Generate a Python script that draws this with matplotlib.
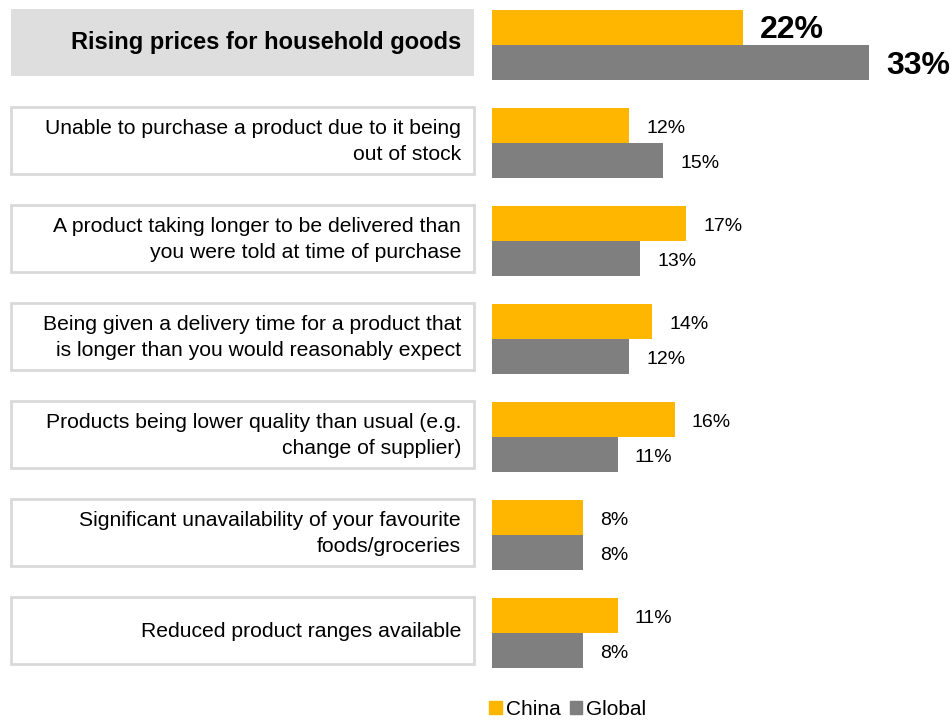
import matplotlib.pyplot as plt
from matplotlib.patches import Rectangle, Patch

plt.rcParams['font.family'] = ['Liberation Sans', 'DejaVu Sans']

categories = [
    "Rising prices for household goods",
    "Unable to purchase a product due to it being\nout of stock",
    "A product taking longer to be delivered than\nyou were told at time of purchase",
    "Being given a delivery time for a product that\nis longer than you would reasonably expect",
    "Products being lower quality than usual (e.g.\nchange of supplier)",
    "Significant unavailability of your favourite\nfoods/groceries",
    "Reduced product ranges available",
]
china = [22, 12, 17, 14, 16, 8, 11]
global_ = [33, 15, 13, 12, 11, 8, 8]

ORANGE = '#FFB600'
GREY = '#7F7F7F'

W, H = 951, 720
PX_PER_PCT = 11.42   # horizontal scale of the bars
ROW_PX = 98.0        # vertical distance between rows
X0_PX = 492          # where bars start
Y0_PX = 45           # centre of first row

fig = plt.figure(figsize=(W / 100, H / 100), dpi=100)
ax = fig.add_axes([0, 0, 1, 1])
ax.set_xlim(-X0_PX / PX_PER_PCT, (W - X0_PX) / PX_PER_PCT)
ax.set_ylim((H - Y0_PX) / ROW_PX, -Y0_PX / ROW_PX)
ax.axis('off')

h = 0.36
rows = list(range(len(categories)))
ax.barh([r - h / 2 for r in rows], china, height=h, color=ORANGE)
ax.barh([r + h / 2 for r in rows], global_, height=h, color=GREY)

box_l = (11 - X0_PX) / PX_PER_PCT
box_r = (474 - X0_PX) / PX_PER_PCT
text_r = (461 - X0_PX) / PX_PER_PCT
for r, label in enumerate(categories):
    top = r - 0.365
    bottom = r + 0.32
    if r == 0:
        ax.add_patch(Rectangle((box_l, top), box_r - box_l, bottom - top,
                               facecolor='#DEDEDE', edgecolor='#DEDEDE', lw=0))
        ax.text(text_r, (top + bottom) / 2, label, ha='right', va='center',
                fontsize=17, fontweight='bold', color='black')
    else:
        ax.add_patch(Rectangle((box_l, top), box_r - box_l, bottom - top,
                               facecolor='white', edgecolor='#D9D9D9', lw=2))
        ax.text(text_r, (top + bottom) / 2 + 0.01, label, ha='right', va='center',
                fontsize=15.2, color='black', multialignment='right',
                linespacing=1.45)

# value labels, nudged slightly down so digits sit on the bar centre
dy = 0.03
for r in rows:
    big = r == 0
    kw = dict(fontsize=23 if big else 14, fontweight='bold' if big else 'normal',
              va='center', ha='left')
    ax.text(china[r] + 1.5, r - h / 2 + dy, f"{china[r]}%", **kw)
    ax.text(global_[r] + 1.5, r + h / 2 + dy, f"{global_[r]}%", **kw)

handles = [Patch(color=ORANGE, label='China'), Patch(color=GREY, label='Global')]
fig.legend(handles=handles, loc='lower left', bbox_to_anchor=(489 / W, 1 / H),
           ncol=2, frameon=False, fontsize=15, handlelength=0.6,
           handleheight=0.6, handletextpad=0.2, columnspacing=0.45,
           borderpad=0, borderaxespad=0)

fig.savefig('out.png', dpi=100)
